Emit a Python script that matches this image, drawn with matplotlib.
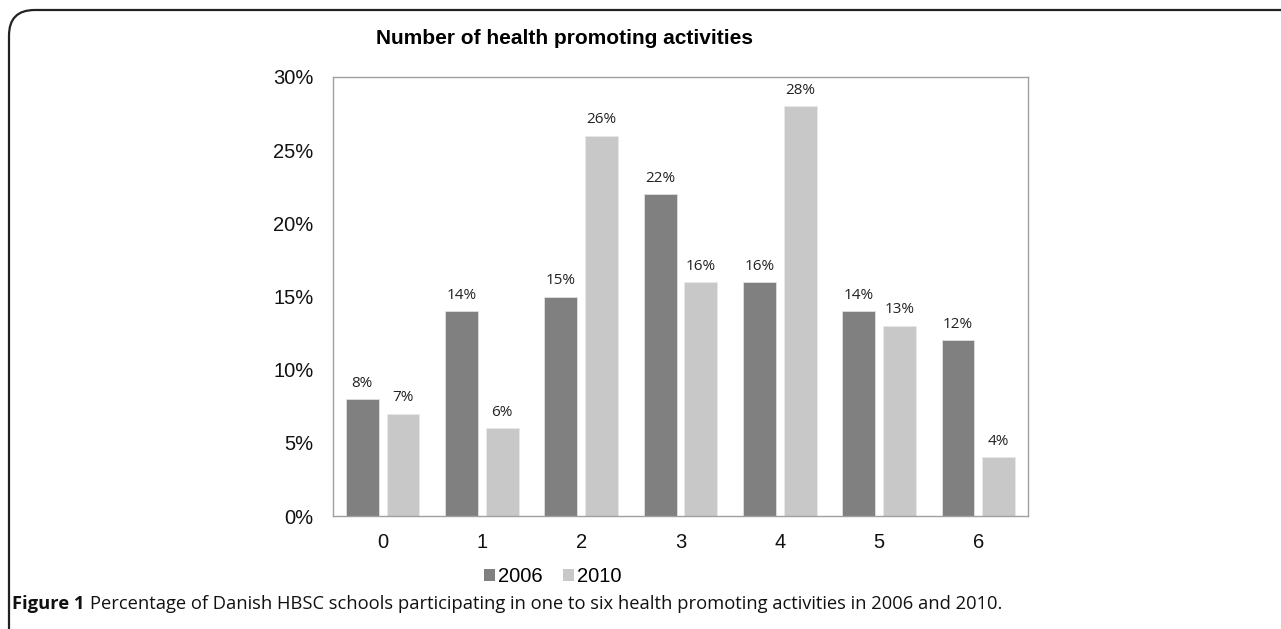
import numpy as np
import matplotlib
matplotlib.use("Agg")
import matplotlib.pyplot as plt
from matplotlib.patches import FancyBboxPatch, Patch
from matplotlib.ticker import FuncFormatter

categories = ["0", "1", "2", "3", "4", "5", "6"]
values_2006 = [8, 14, 15, 22, 16, 14, 12]
values_2010 = [7, 6, 26, 16, 28, 13, 4]
series_names = ["2006", "2010"]
yticks_values = [0, 5, 10, 15, 20, 25, 30]

color_2006 = "#808080"
color_2010 = "#c8c8c8"

plt.rcParams["font.family"] = ["Liberation Sans", "DejaVu Sans"]

fig = plt.figure(figsize=(12.81, 6.29), dpi=100)
W, H = 1281, 629

# outer frame with rounded top-left corner, open to the right and bottom
frame = FancyBboxPatch(
    (9 / W, -0.2), 1.3, 1 - 10 / H + 0.2,
    boxstyle="round,pad=0,rounding_size=0.02",
    transform=fig.transFigure, fill=False, edgecolor="#222222",
    linewidth=1.6, clip_on=False, mutation_aspect=W / H,
)
fig.patches.append(frame)

ax = fig.add_axes([333 / W, 1 - 516 / H, (1028 - 333) / W, (516 - 77) / H])

x = np.arange(len(categories))
width = 0.33
offset = 0.205
bars1 = ax.bar(x - offset, values_2006, width, color=color_2006,
               edgecolor="#e0e0e0", linewidth=0.6, label=series_names[0])
bars2 = ax.bar(x + offset, values_2010, width, color=color_2010,
               edgecolor="#e8e8e8", linewidth=0.6, label=series_names[1])

for bars in (bars1, bars2):
    for b in bars:
        ax.annotate(f"{b.get_height():.0f}%",
                    (b.get_x() + b.get_width() / 2, b.get_height()),
                    xytext=(0, 6), textcoords="offset points",
                    ha="center", va="bottom", fontsize=11,
                    family=["Open Sans", "DejaVu Sans"], color="#222222")

ax.set_xlim(-0.5, len(categories) - 0.5)
ax.set_ylim(0, 30)
ax.set_xticks(x)
ax.set_xticklabels(categories)
ax.set_yticks(yticks_values)
ax.yaxis.set_major_formatter(FuncFormatter(lambda v, p: f"{v:.0f}%"))
ax.tick_params(axis="both", length=0, labelsize=14.5, colors="#111111")
ax.tick_params(axis="x", pad=12)
ax.tick_params(axis="y", pad=14)
for s in ax.spines.values():
    s.set_color("#a0a0a0")
    s.set_linewidth(1.0)

fig.text(564 / W, 1 - 39 / H, "Number of health promoting activities",
         ha="center", va="center", fontsize=15, fontweight="bold")

handles = [Patch(facecolor=color_2006, edgecolor="none"),
           Patch(facecolor=color_2010, edgecolor="none")]
fig.legend(handles, series_names, loc="center", bbox_to_anchor=(553 / W, 1 - 577 / H),
           ncol=2, frameon=False, fontsize=14.5, handlelength=0.55, handleheight=0.55,
           handletextpad=0.15, columnspacing=1.0)

# caption
cap_y = 1 - 604 / H
t1 = fig.text(12 / W, cap_y, "Figure 1", ha="left", va="center", fontsize=13.2,
              fontweight="bold", family=["Open Sans", "DejaVu Sans"], color="#111111")
fig.canvas.draw()
bb = t1.get_window_extent(fig.canvas.get_renderer())
fig.text(bb.x1 / W + 5 / W, cap_y,
         "Percentage of Danish HBSC schools participating in one to six health promoting activities in 2006 and 2010.",
         ha="left", va="center", fontsize=13.2, family=["Open Sans", "DejaVu Sans"], color="#111111")

fig.savefig("out.png", dpi=100)
